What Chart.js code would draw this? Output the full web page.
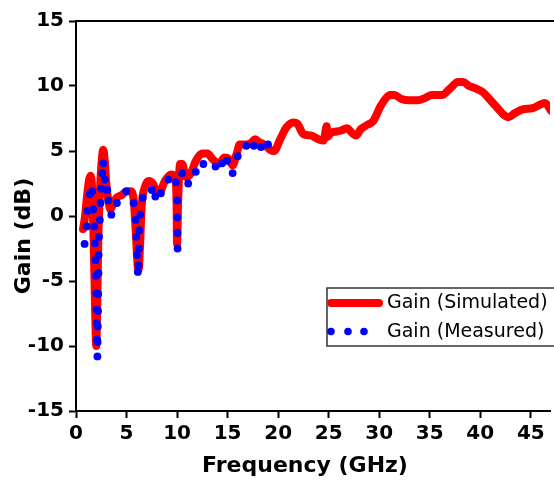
<!DOCTYPE html>
<html>
<head>
<meta charset="utf-8">
<script src="https://cdn.jsdelivr.net/npm/chart.js@4/dist/chart.umd.min.js"></script>
<style>
html,body{margin:0;padding:0;background:#fff;}
canvas{display:block;}
</style>
</head>
<body>
<canvas id="c" width="554" height="482"></canvas>
<script>
// ---- Data ----
const simFreq = [0.7,0.9,1.1,1.3,1.45,1.6,1.75,1.9,2.0,2.1,2.2,2.35,2.5,2.7,2.85,3.0,3.2,3.4,3.7,4.0,4.5,5.0,5.4,5.7,5.9,6.1,6.2,6.35,6.5,6.8,7.2,7.6,8.0,8.3,8.8,9.4,9.8,9.95,10.0,10.1,10.3,10.5,10.9,11.3,11.9,12.5,13.0,13.5,14.1,14.7,15.1,15.5,15.9,16.2,16.8,17.3,17.7,18.1,18.6,19.2,19.6,20.2,20.8,21.5,21.9,22.5,23.2,24.0,24.5,24.8,24.9,25.2,25.8,26.3,26.8,27.3,27.7,28.2,28.8,29.4,30.1,30.6,31.1,31.5,32.2,33.0,33.8,34.6,35.2,36.2,37.0,37.8,38.3,38.9,39.6,40.3,40.9,41.6,42.3,42.8,43.4,44.2,45.2,46.0,46.4,47.0];
const simGain = [-1.0,0.0,1.6,2.8,3.1,2.0,-2.0,-7.5,-10.0,-7.0,-2.0,1.5,3.8,5.1,4.2,2.5,1.2,0.5,1.0,1.4,1.6,1.9,1.9,1.3,-1.0,-3.8,-4.1,-2.0,0.8,2.2,2.7,2.5,1.9,1.9,2.7,3.2,3.0,1.0,-2.2,1.0,4.0,4.0,3.0,3.2,4.3,4.8,4.8,4.4,4.0,4.5,4.4,3.9,4.8,5.5,5.5,5.6,5.9,5.7,5.5,5.1,5.0,5.9,6.8,7.2,7.1,6.3,6.2,5.9,5.8,6.9,6.1,6.4,6.5,6.6,6.75,6.4,6.2,6.7,7.0,7.3,8.4,9.0,9.3,9.3,9.0,8.9,8.9,9.1,9.3,9.3,9.8,10.3,10.3,10.0,9.8,9.5,9.0,8.4,7.8,7.6,7.9,8.2,8.3,8.6,8.7,8.1];

const measFreq = [0.85,1.05,1.15,1.37,1.6,1.7,1.8,1.87,1.93,1.97,2.0,2.03,2.06,2.09,2.12,2.14,2.16,2.18,2.2,2.22,2.24,2.28,2.36,2.42,2.5,2.6,2.7,2.85,3.1,3.2,3.5,4.05,4.97,5.7,5.9,5.97,6.05,6.12,6.18,6.22,6.26,6.35,6.6,7.5,7.85,8.4,9.15,9.9,10.03,10.04,10.05,10.05,10.5,11.1,11.85,12.6,13.8,14.45,14.95,15.5,16.0,16.85,17.6,18.3,19.0];
const measGain = [-2.15,-0.8,0.4,1.7,1.9,0.5,-0.8,-2.1,-3.4,-4.6,-5.95,-7.2,-8.25,-9.5,-10.8,-9.7,-8.5,-7.3,-6.0,-4.4,-3.0,-1.6,-0.3,1.0,2.1,3.3,4.05,2.8,2.0,1.2,0.1,1.0,1.9,1.0,-0.3,-1.6,-3.0,-4.3,-3.8,-2.5,-1.1,0.1,1.4,2.0,1.5,1.75,2.8,2.6,1.2,-0.1,-1.3,-2.5,3.3,2.5,3.4,4.0,3.8,4.05,4.25,3.3,4.6,5.4,5.4,5.3,5.5];

const xTickValues = [0,5,10,15,20,25,30,35,40,45];
const yTickValues = [-15,-10,-5,0,5,10,15];
const xTitle = 'Frequency (GHz)';
const yTitle = 'Gain (dB)';
const seriesNames = ['Gain (Simulated)', 'Gain (Measured)'];

const simPts = simFreq.map((f,i)=>({x:f,y:simGain[i]}));
const measPts = measFreq.map((f,i)=>({x:f,y:measGain[i]}));

const tickFont = {family:'DejaVu Sans', weight:'bold', size:20};

const decor = {
  id:'decor',
  afterDraw(chart){
    const ctx = chart.ctx, a = chart.chartArea;
    ctx.save();
    // top frame line
    ctx.strokeStyle = '#000'; ctx.lineWidth = 2;
    ctx.beginPath(); ctx.moveTo(a.left, a.top); ctx.lineTo(chart.width, a.top); ctx.stroke();
    // axis titles
    ctx.fillStyle = '#000';
    ctx.font = 'bold 22px "DejaVu Sans"';
    ctx.textAlign = 'center'; ctx.textBaseline = 'middle';
    ctx.fillText(xTitle, 305, 466);
    ctx.translate(24, 236); ctx.rotate(-Math.PI/2);
    ctx.fillText(yTitle, 0, 0);
    ctx.restore();
    // legend
    ctx.save();
    ctx.fillStyle = '#fff';
    ctx.fillRect(327, 288, 240, 58);
    ctx.strokeStyle = '#333'; ctx.lineWidth = 1.5;
    ctx.strokeRect(327, 288, 240, 58);
    ctx.strokeStyle = '#ff0000'; ctx.lineWidth = 8; ctx.lineCap = 'round';
    ctx.beginPath(); ctx.moveTo(331, 303); ctx.lineTo(379, 303); ctx.stroke();
    ctx.fillStyle = '#0000ff';
    [331, 348, 364].forEach(x=>{ ctx.beginPath(); ctx.arc(x, 331.5, 3.8, 0, Math.PI*2); ctx.fill(); });
    ctx.fillStyle = '#000';
    ctx.font = '19px "DejaVu Sans"';
    ctx.textAlign = 'left'; ctx.textBaseline = 'middle';
    ctx.fillText(seriesNames[0], 387, 303);
    ctx.fillText(seriesNames[1], 387, 332);
    ctx.restore();
  }
};

new Chart(document.getElementById('c'), {
  type:'scatter',
  data:{
    datasets:[
      {label:seriesNames[1], data:measPts, showLine:false, pointRadius:3.9, pointBackgroundColor:'#0000ff', pointBorderWidth:0, borderColor:'#0000ff'},
      {label:seriesNames[0], data:simPts, showLine:true, borderColor:'#ff0000', borderWidth:8, pointRadius:0, cubicInterpolationMode:'monotone', borderCapStyle:'round', borderJoinStyle:'round', fill:false}
    ]
  },
  options:{
    responsive:false, animation:false,
    layout:{padding:{top:21, right:0, left:0, bottom:0}},
    plugins:{legend:{display:false}, tooltip:{enabled:false}},
    scales:{
      x:{
        type:'linear', min:0, max:46.9,
        afterFit(s){ s.height = 71; },
        afterBuildTicks(s){ s.ticks = xTickValues.map(v=>({value:v})); },
        ticks:{font:tickFont, color:'#000', padding:4, autoSkip:false, maxRotation:0, includeBounds:false},
        grid:{drawOnChartArea:false, drawTicks:true, tickLength:7, tickWidth:2, tickColor:'#000'},
        border:{display:true, color:'#000', width:2}
      },
      y:{
        type:'linear', min:-15, max:15,
        afterFit(s){ s.width = 76; },
        afterBuildTicks(s){ s.ticks = yTickValues.map(v=>({value:v})); },
        ticks:{font:tickFont, color:'#000', padding:5},
        grid:{drawOnChartArea:false, drawTicks:true, tickLength:7, tickWidth:2, tickColor:'#000'},
        border:{display:true, color:'#000', width:2}
      }
    }
  },
  plugins:[decor]
});
</script>
</body>
</html>
